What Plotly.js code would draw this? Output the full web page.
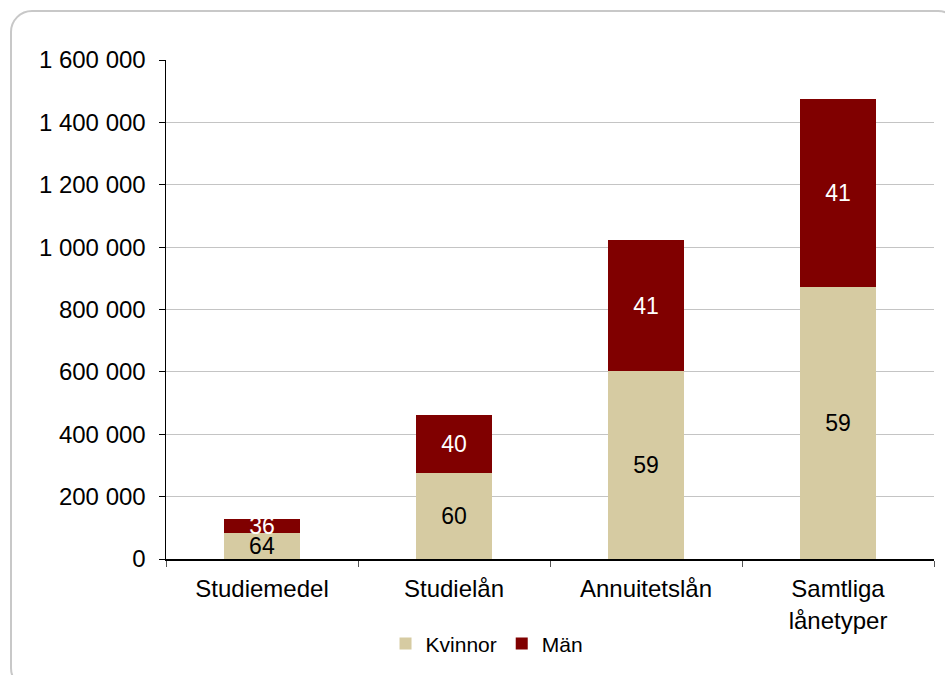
<!DOCTYPE html>
<html>
<head>
<meta charset="utf-8">
<script src="https://cdn.plot.ly/plotly-3.0.1.min.js"></script>
<style>
  html, body { margin: 0; padding: 0; background: #fff; overflow: hidden; }
  #wrap { position: relative; width: 945px; height: 675px; }
  #frame { position: absolute; left: 10px; top: 10px; width: 950px; height: 680px;
           border: 2px solid #c8c8c8; border-radius: 22px; box-sizing: border-box; pointer-events: none; z-index: 2; }
  #chart { position: absolute; left: 0; top: 0; width: 945px; height: 675px; }
</style>
</head>
<body>
<div id="wrap">
  <div id="chart"></div>
  <div id="frame"></div>
</div>
<script>
const categories = ["Studiemedel", "Studielån", "Annuitetslån", "Samtliga<br>lånetyper"];
const kvinnor = [82000, 277000, 602000, 871000];
const man = [46000, 184000, 421000, 604000];
const kvinnorPct = ["64", "60", "59", "59"];
const manPct = ["36", "40", "41", "41"];
const yTicks = [0, 200000, 400000, 600000, 800000, 1000000, 1200000, 1400000, 1600000];

const font = "Liberation Sans, Arial, sans-serif";

const traces = [
  {
    type: "bar", name: "Kvinnor", x: categories, y: kvinnor,
    text: kvinnorPct, textposition: "inside", insidetextanchor: "middle",
    textangle: 0, constraintext: "none",
    textfont: { family: font, size: 23, color: "#000" },
    marker: { color: "#D6CBA2", line: { width: 0 } },
    hoverinfo: "skip"
  },
  {
    type: "bar", name: "Män", x: categories, y: man,
    text: manPct, textposition: "inside", insidetextanchor: "middle",
    textangle: 0, constraintext: "none",
    textfont: { family: font, size: 23, color: "#fff" },
    marker: { color: "#800000", line: { width: 0 } },
    hoverinfo: "skip"
  }
];

const layout = {
  width: 945, height: 675,
  margin: { l: 166, r: 11, t: 60, b: 112 },
  barmode: "stack",
  bargap: 0.6,
  separators: ", ",
  paper_bgcolor: "#fff", plot_bgcolor: "#fff",
  font: { family: font, size: 24, color: "#000" },
  showlegend: true,
  legend: {
    orientation: "h", x: 0.418, xanchor: "center", y: -0.17, yanchor: "middle",
    font: { family: font, size: 21, color: "#000" },
    itemwidth: 30, tracegroupgap: 0, traceorder: "normal"
  },
  xaxis: {
    type: "category",
    showline: true, linecolor: "#000", linewidth: 1.5,
    ticks: "outside", tickson: "boundaries", ticklen: 6, tickcolor: "#555", tickwidth: 1,
    ticklabelstandoff: 8,
    tickfont: { family: font, size: 24, color: "#000" },
    showgrid: false, zeroline: false, fixedrange: true
  },
  yaxis: {
    range: [0, 1600000],
    tickvals: yTicks,
    tickformat: ",d",
    showline: true, linecolor: "#000", linewidth: 1.5,
    ticks: "outside", ticklen: 6, tickcolor: "#000", tickwidth: 1,
    ticklabelstandoff: 8,
    tickfont: { family: font, size: 24, color: "#000" },
    showgrid: true, gridcolor: "#c4c4c4", gridwidth: 1,
    zeroline: false, fixedrange: true
  }
};

Plotly.newPlot("chart", traces, layout, { staticPlot: true, displayModeBar: false });
</script>
</body>
</html>
